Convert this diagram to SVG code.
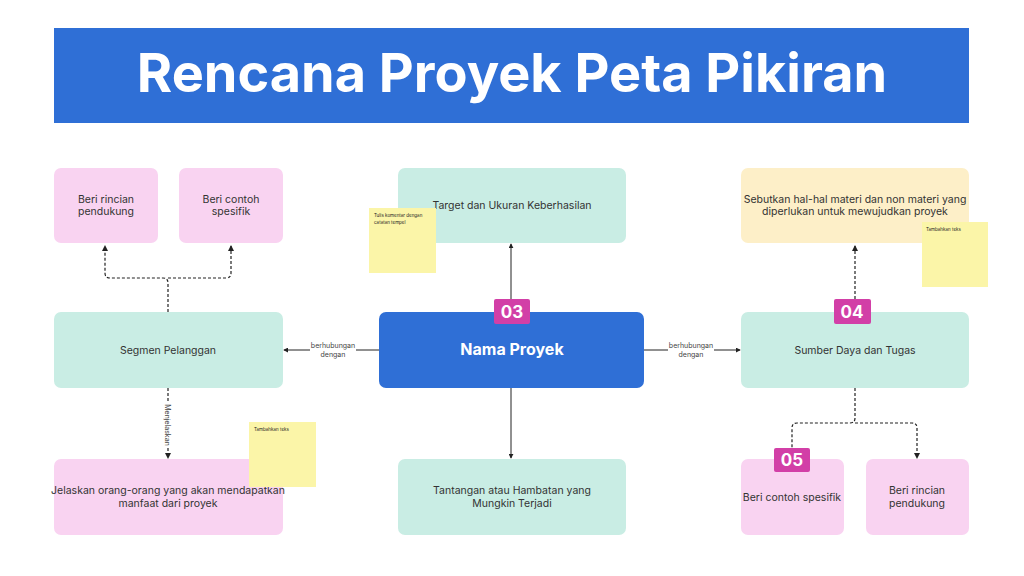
<svg xmlns="http://www.w3.org/2000/svg" width="1024" height="576" viewBox="0 0 1024 576">
<style>
text{font-family:Inter,"Liberation Sans",sans-serif;fill:#333;text-anchor:middle}
.t{font-size:10.5px}
.s{font-size:4.5px;text-anchor:start;fill:#222}
.l{font-size:7px;fill:#444}
.pink{fill:#f9d3f1}.mint{fill:#c9ede4}.yel{fill:#fdefc8}.st{fill:#fbf5a8}
.badge{fill:#d23fa7}.bt{font-size:17px;font-weight:700;fill:#fff}
.d{fill:none;stroke:#222;stroke-width:1.2;stroke-dasharray:3 2}
.c{fill:none;stroke:#222;stroke-width:1}
</style>
<defs><marker id="a" viewBox="0 0 6 6" refX="5" refY="3" markerWidth="5" markerHeight="5" orient="auto"><path d="M0,0L6,3L0,6z" fill="#222"/></marker></defs>
<rect width="1024" height="576" fill="#fff"/>
<g id="title"><rect x="54" y="28" width="915" height="95" fill="#2f6fd6"/><text x="512" y="92" style="font-size:54px;font-weight:700;fill:#fff">Rencana Proyek Peta Pikiran</text></g>
<g id="connectors">
<path class="d" d="M168,312V283Q168,278 163,278H110Q105,278 105,273V246" marker-end="url(#a)"/>
<path class="d" d="M168,278H226Q231,278 231,273V246" marker-end="url(#a)"/>
<path class="d" d="M168,388V458" marker-end="url(#a)"/>
<path class="c" d="M379,350H284" marker-end="url(#a)"/>
<path class="c" d="M644,350H740" marker-end="url(#a)"/>
<path class="c" d="M511,312V244" marker-end="url(#a)"/>
<path class="c" d="M511,388V458" marker-end="url(#a)"/>
<path class="d" d="M855,299V246" marker-end="url(#a)"/>
<path class="d" d="M855,388V418Q855,423 850,423H797Q792,423 792,428V459"/>
<path class="d" d="M855,423H912Q917,423 917,428V458" marker-end="url(#a)"/>
<rect x="310" y="340" width="46" height="20" fill="#fff"/><text class="l" x="333" y="348">berhubungan</text><text class="l" x="333" y="357">dengan</text>
<rect x="668" y="340" width="46" height="20" fill="#fff"/><text class="l" x="691" y="348">berhubungan</text><text class="l" x="691" y="357">dengan</text>
<rect x="163" y="403" width="10" height="44" fill="#fff"/><text class="l" transform="translate(165,425) rotate(90)">Menjelaskan</text>
</g>
<g id="n1"><rect class="pink" x="54" y="168" width="104" height="75" rx="7"/><text class="t" x="106" y="203">Beri rincian</text><text class="t" x="106" y="215">pendukung</text></g>
<g id="n2"><rect class="pink" x="179" y="168" width="104" height="75" rx="7"/><text class="t" x="231" y="203">Beri contoh</text><text class="t" x="231" y="215">spesifik</text></g>
<g id="n3"><rect class="mint" x="54" y="312" width="229" height="76" rx="7"/><text class="t" x="168" y="354">Segmen Pelanggan</text></g>
<g id="n4"><rect class="pink" x="54" y="459" width="229" height="76" rx="7"/><text class="t" x="168" y="494">Jelaskan orang-orang yang akan mendapatkan</text><text class="t" x="168" y="507">manfaat dari proyek</text></g>
<g id="s1"><rect class="st" x="249" y="422" width="67" height="65"/><text class="s" x="254" y="431">Tambahkan teks</text></g>
<g id="n5"><rect class="mint" x="398" y="168" width="228" height="75" rx="7"/><text class="t" x="512" y="209">Target dan Ukuran Keberhasilan</text></g>
<g id="s2"><rect class="st" x="369" y="208" width="67" height="65"/><text class="s" x="374" y="217">Tulis komentar dengan</text><text class="s" x="374" y="224">catatan tempel</text></g>
<g id="n6"><rect x="379" y="312" width="265" height="76" rx="7" fill="#2f6fd6"/><text x="512" y="355" style="font-size:16px;font-weight:700;fill:#fff">Nama Proyek</text></g>
<g id="b3"><rect class="badge" x="494" y="299" width="36" height="25" rx="2"/><text class="bt" x="512" y="318">03</text></g>
<g id="n7"><rect class="mint" x="398" y="459" width="228" height="76" rx="7"/><text class="t" x="512" y="494">Tantangan atau Hambatan yang</text><text class="t" x="512" y="507">Mungkin Terjadi</text></g>
<g id="n8"><rect class="yel" x="741" y="168" width="228" height="75" rx="7"/><text class="t" x="855" y="203">Sebutkan hal-hal materi dan non materi yang</text><text class="t" x="855" y="215">diperlukan untuk mewujudkan proyek</text></g>
<g id="s3"><rect class="st" x="922" y="222" width="66" height="65"/><text class="s" x="926" y="231">Tambahkan teks</text></g>
<g id="n9"><rect class="mint" x="741" y="312" width="228" height="76" rx="7"/><text class="t" x="855" y="354">Sumber Daya dan Tugas</text></g>
<g id="b4"><rect class="badge" x="834" y="299" width="37" height="25" rx="2"/><text class="bt" x="852" y="318">04</text></g>
<g id="n10"><rect class="pink" x="741" y="459" width="103" height="76" rx="7"/><text class="t" x="792" y="501">Beri contoh spesifik</text></g>
<g id="b5"><rect class="badge" x="774" y="448" width="36" height="24" rx="2"/><text class="bt" x="792" y="466">05</text></g>
<g id="n11"><rect class="pink" x="866" y="459" width="103" height="76" rx="7"/><text class="t" x="917" y="494">Beri rincian</text><text class="t" x="917" y="507">pendukung</text></g>
</svg>
